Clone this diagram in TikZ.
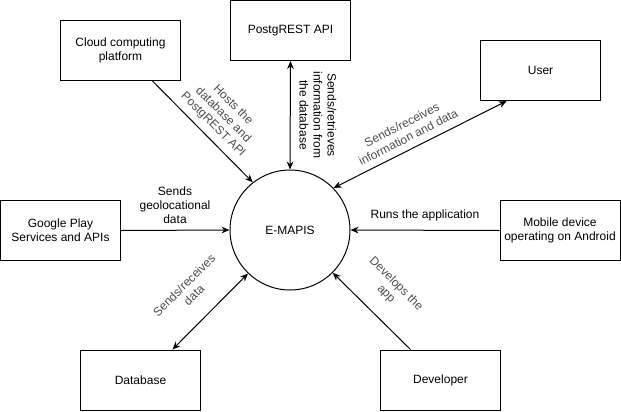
\documentclass[tikz,border=0pt]{standalone}
\usepackage{fontspec}
\setmainfont{Liberation Sans}
\usetikzlibrary{arrows.meta}
\tikzset{
  box/.style={draw, line width=0.75pt, minimum width=90pt, minimum height=45pt, align=center, inner sep=1pt},
  hub/.style={draw, circle, line width=0.75pt, minimum size=90pt, inner sep=0pt},
  lbl/.style={align=center, inner sep=0pt, font=\fontsize{9}{10.5}\selectfont},
  flow/.style={line width=0.75pt, -{Stealth[length=6pt,width=5pt]}},
  both/.style={line width=0.75pt, {Stealth[length=6pt,width=5pt]}-{Stealth[length=6pt,width=5pt]}}
}
\begin{document}
\begin{tikzpicture}[x=0.75pt, y=-0.75pt, font=\fontsize{9}{10.5}\selectfont]
			%%%%% START %%%%%
			\useasboundingbox (0, 0) rectangle (621, 411);
			
			\node[hub] (emapis) at (290, 230) {E-MAPIS};
			
			\node[box] (cloud) at (120.5, 50.5) {Cloud computing\\platform};
			\node[box] (postgrest) at (290.5, 30.5) {PostgREST API};
			\node[box] (user) at (540.5, 70.5) {User};
			\node[box] (google) at (60.5, 230.5) {Google Play\\Services and APIs};
			\node[box] (mobile) at (560, 230.5) {Mobile device\\operating on Android};
			\node[box] (database) at (140.5, 380) {Database};
			\node[box] (developer) at (440.5, 380) {Developer};
			
			\draw[flow] ([xshift=24pt]cloud.south) -- (emapis.128);
			\draw[both] (postgrest.south) -- (emapis.north);
			\draw[both] (emapis.44) -- ([xshift=20pt]user.south west);
			\draw[flow] (google.east) -- (emapis.west);
			\draw[flow] (mobile.west) -- (emapis.east);
			\draw[both] (emapis.226) -- ([xshift=24pt]database.north);
			\draw[flow] ([xshift=-22.5pt]developer.north) -- (emapis.315);
			
			\node[lbl, color=black!70, rotate=-45] (hostslbl) at (223, 115) {Hosts the\\database and\\PostgREST API};
			\node[lbl, rotate=-90] (restlbl) at (318, 115) {Sends/retrieves\\information from\\the database};
			\node[lbl, color=black!70, rotate=27] (userlbl) at (405, 131) {Sends/receives\\information and data};
			\node[lbl] (geolbl) at (175, 205) {Sends\\geolocational\\data};
			\node[lbl] (runslbl) at (425, 215) {Runs the application};
			\node[lbl, color=black!70, rotate=45] (dblbl) at (189, 290) {Sends/receives\\data};
			\node[lbl, color=black!70, rotate=-45] (devlbl) at (391, 289) {Develops the\\app};
			
			%%%%% END %%%%%
\end{tikzpicture}
\end{document}
